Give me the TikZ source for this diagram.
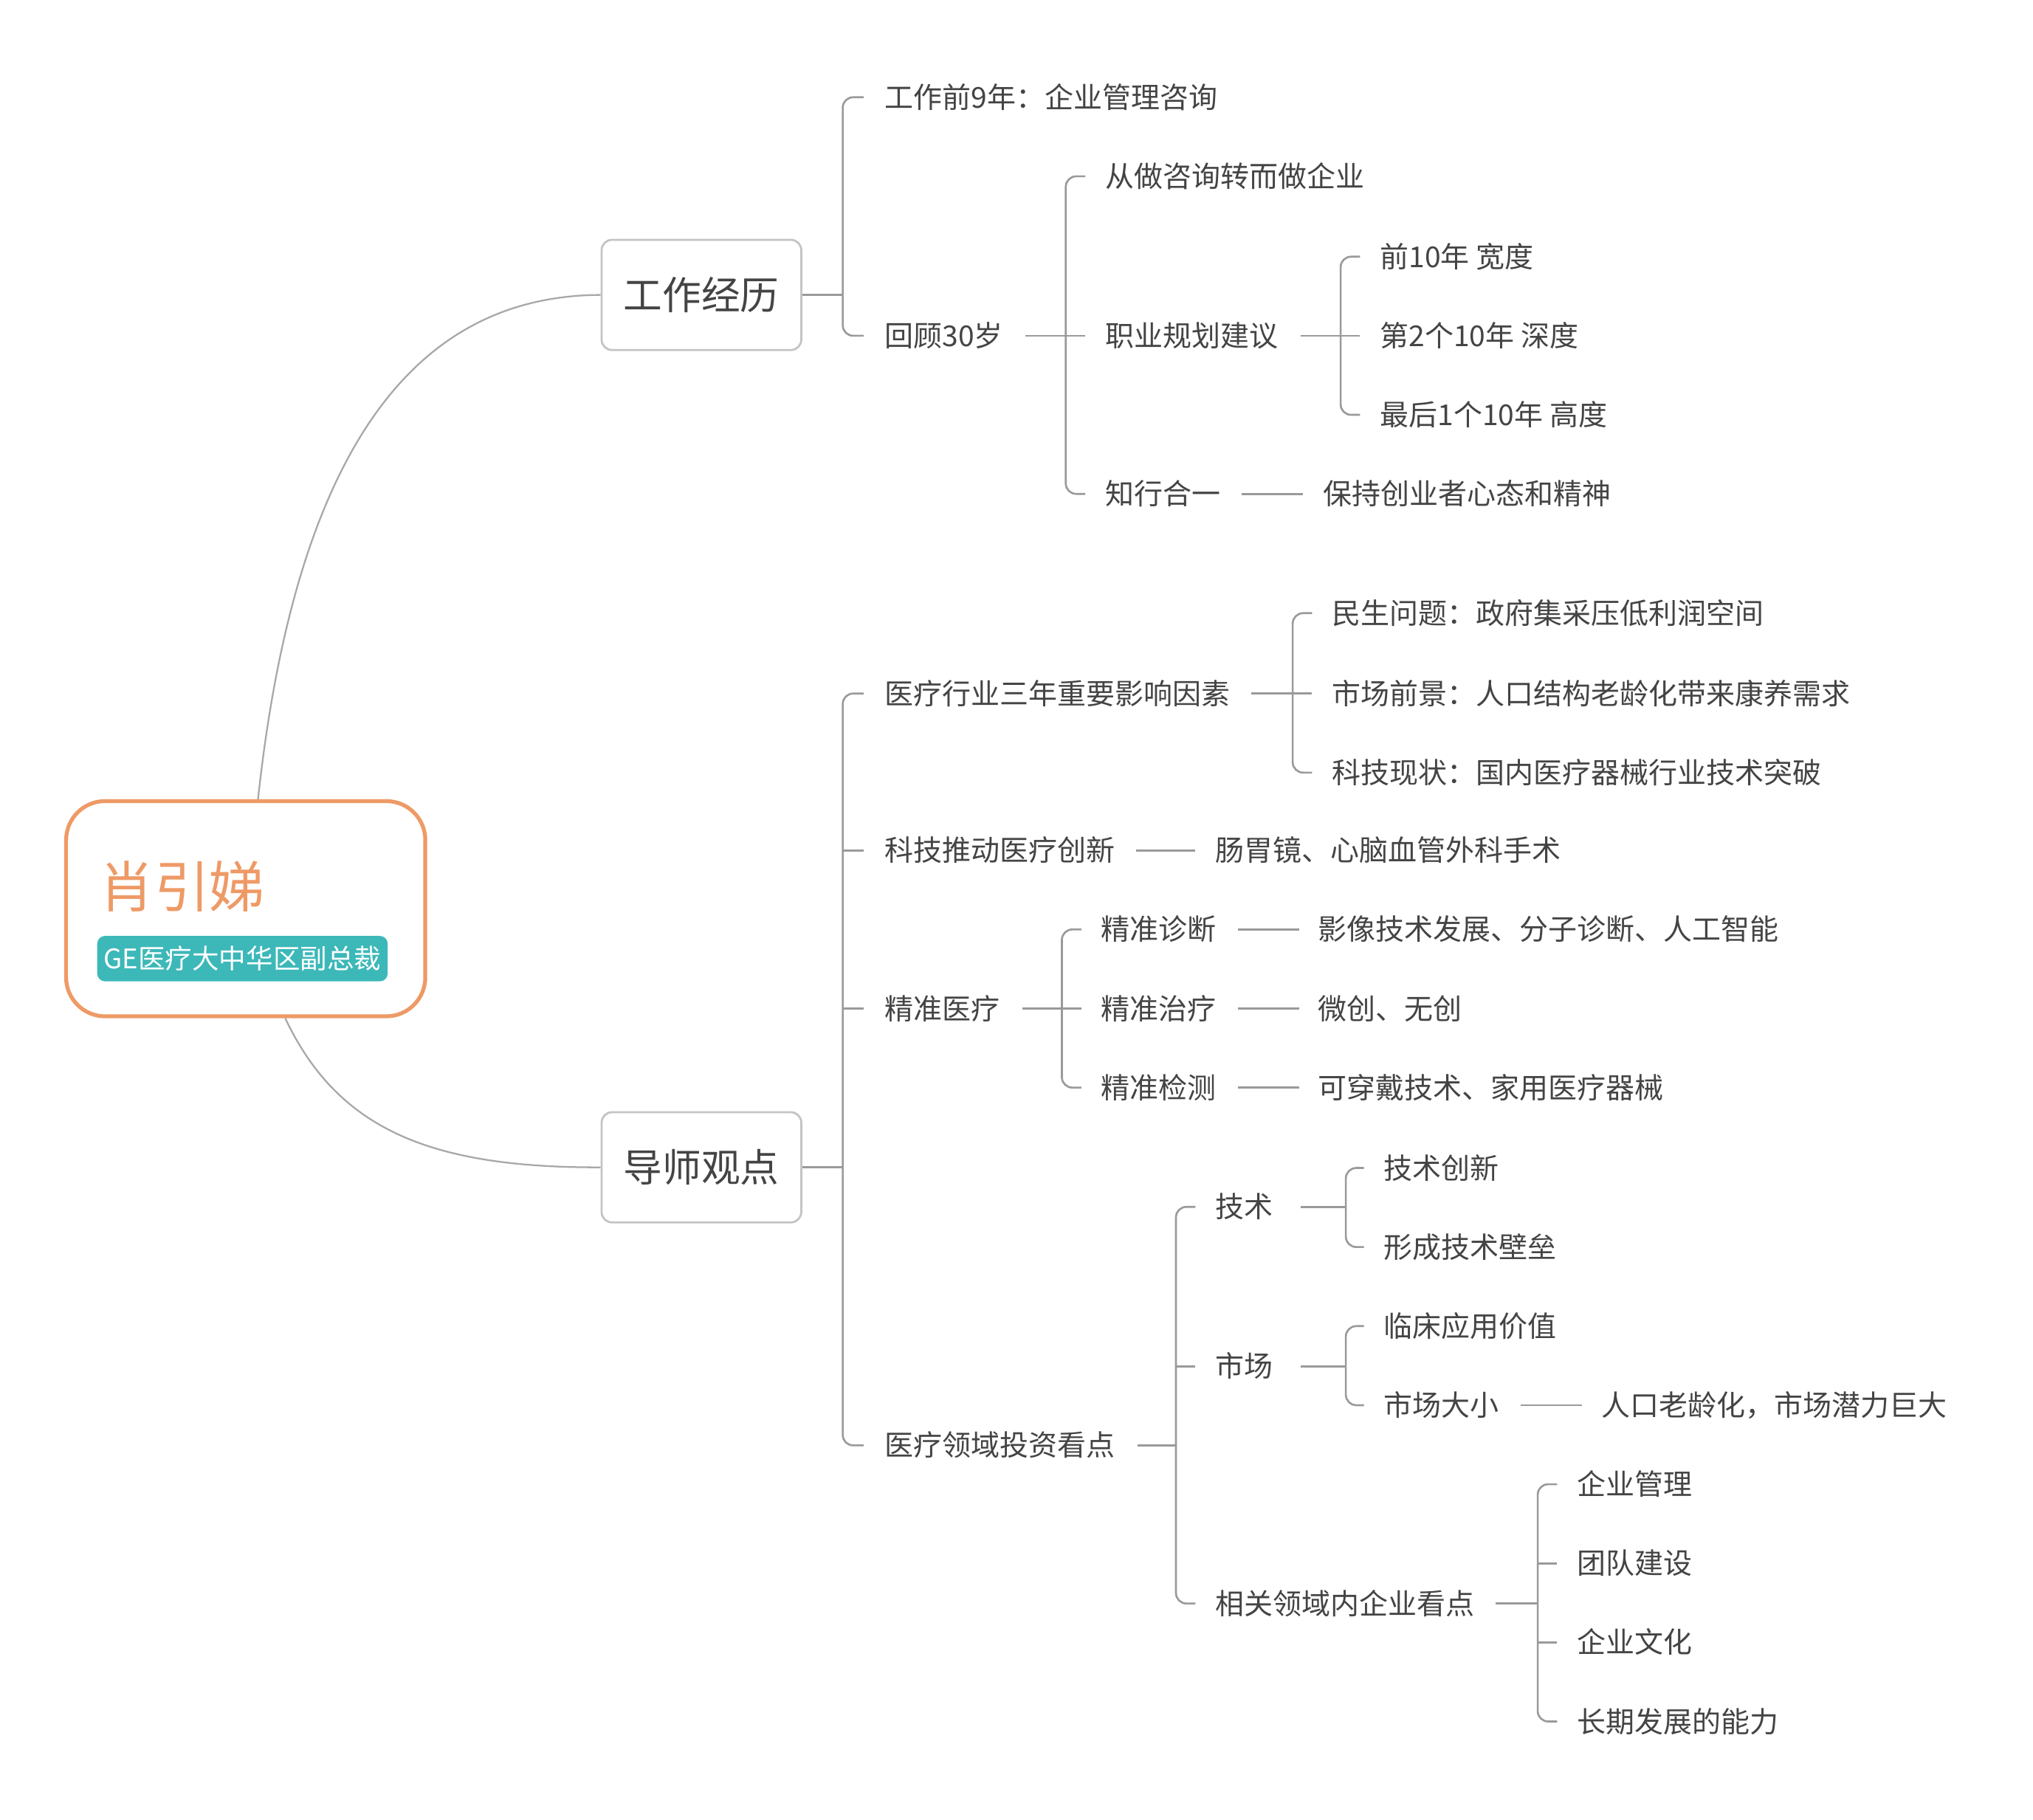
\documentclass[tikz,border=0pt]{standalone}
\usepackage{fontspec}
\setmainfont{Noto Sans CJK SC}
\newfontfamily\cjk{Noto Sans CJK SC}
\definecolor{rootc}{HTML}{EE9A66}
\definecolor{tealc}{HTML}{3DB8B9}
\definecolor{txtc}{HTML}{444444}
\definecolor{linec}{HTML}{9A9A9A}
\definecolor{topicb}{HTML}{C4C4C4}
\definecolor{curvec}{HTML}{A8A8A8}
\tikzset{
  txt/.style={anchor=west, inner sep=0pt, font={\cjk\fontsize{11.1}{13}\selectfont}, text=txtc, text height=9pt, text depth=0.7pt},
  conn/.style={draw=linec, line width=0.75pt, rounded corners=4pt},
  curve/.style={draw=curvec, line width=0.65pt},
  topic/.style={draw=topicb, line width=0.8pt, rounded corners=4pt, fill=white, minimum width=77pt, minimum height=42.5pt, inner sep=0pt, font={\cjk\fontsize{15}{18}\selectfont}, text=txtc, text height=12pt, text depth=0.9pt},
  rootbox/.style={draw=rootc, line width=1.5pt, rounded corners=15pt, fill=white, minimum width=138.5pt, minimum height=83pt, inner sep=0pt},
  roottitle/.style={anchor=west, inner sep=0pt, font={\cjk\fontsize{21.3}{24}\selectfont}, text=rootc, text height=17.1pt, text depth=1.3pt},
  subbox/.style={fill=tealc, rounded corners=3pt, minimum width=112pt, minimum height=17.5pt, inner sep=0pt, font={\cjk\fontsize{10.4}{12}\selectfont}, text=white, text height=8.3pt, text depth=0.62pt}
}
\begin{document}
\begin{tikzpicture}[x=0.5pt,y=-0.5pt]
\fill[white] (0,0) rectangle (1568,1404);
\useasboundingbox (0,0) rectangle (1568,1404);

% root
\node[rootbox] (root) at (189.5,701) {};
\node[roottitle] (rt) at (76,684) {肖引娣};
\node[subbox] (sub) at (187,739.5) {GE医疗大中华区副总裁};

% main topics
\node[topic] (T1) at (541,227.5) {工作经历};
\node[topic] (T2) at (541,900.5) {导师观点};

\draw[curve] ([xshift=4.75pt]root.north) .. controls (230,330) and (330,228) .. (T1.west);
\draw[curve] ([xshift=15.25pt]root.south) .. controls (260,870) and (330,901) .. (T2.west);

% branch 1
\node[txt] (A1) at (682,75) {工作前9年：企业管理咨询};
\node[txt] (A2) at (682,259) {回顾30岁};
\node[txt] (A21) at (852,136) {从做咨询转而做企业};
\node[txt] (A22) at (852,259) {职业规划建议};
\node[txt] (A23) at (852,381) {知行合一};
\node[txt] (A221) at (1064,198) {前10年 宽度};
\node[txt] (A222) at (1064,259) {第2个10年 深度};
\node[txt] (A223) at (1064,320) {最后1个10年 高度};
\node[txt] (A231) at (1020,381) {保持创业者心态和精神};

% branch 2
\node[txt] (B1) at (682,535) {医疗行业三年重要影响因素};
\node[txt] (B11) at (1027,473) {民生问题：政府集采压低利润空间};
\node[txt] (B12) at (1027,535) {市场前景：人口结构老龄化带来康养需求};
\node[txt] (B13) at (1027,596) {科技现状：国内医疗器械行业技术突破};
\node[txt] (B2) at (682,656) {科技推动医疗创新};
\node[txt] (B21) at (937,656) {肠胃镜、心脑血管外科手术};
\node[txt] (B3) at (682,778) {精准医疗};
\node[txt] (B31) at (849,717) {精准诊断};
\node[txt] (B32) at (849,778) {精准治疗};
\node[txt] (B33) at (849,839) {精准检测};
\node[txt] (B311) at (1016,717) {影像技术发展、分子诊断、人工智能};
\node[txt] (B321) at (1016,778) {微创、无创};
\node[txt] (B331) at (1016,839) {可穿戴技术、家用医疗器械};
\node[txt] (B4) at (682,1115) {医疗领域投资看点};
\node[txt] (B41) at (937,931) {技术};
\node[txt] (B42) at (937,1054) {市场};
\node[txt] (B43) at (937,1237) {相关领域内企业看点};
\node[txt] (B411) at (1067,901) {技术创新};
\node[txt] (B412) at (1067,962) {形成技术壁垒};
\node[txt] (B421) at (1067,1023) {临床应用价值};
\node[txt] (B422) at (1067,1084) {市场大小};
\node[txt] (B4221) at (1235,1084) {人口老龄化，市场潜力巨大};
\node[txt] (B431) at (1216,1145) {企业管理};
\node[txt] (B432) at (1216,1206) {团队建设};
\node[txt] (B433) at (1216,1267) {企业文化};
\node[txt] (B434) at (1216,1328) {长期发展的能力};

% spines
\coordinate (sT1) at (650,227.5);
\coordinate (sA2) at (822,259);
\coordinate (sA22) at (1034,259);
\coordinate (sT2) at (650,900.5);
\coordinate (sB1) at (997,535);
\coordinate (sB3) at (819,778);
\coordinate (sB4) at (907,1115);
\coordinate (sB41) at (1038,931);
\coordinate (sB42) at (1038,1054);
\coordinate (sB43) at (1186,1237);

% branch 1 connectors
\draw[conn] (T1.east) -- (sT1);
\draw[conn] (sT1) |- ([xshift=-8pt]A1.west);
\draw[conn] (sT1) |- ([xshift=-8pt]A2.west);

\draw[conn] ([xshift=8.5pt]A2.east) -- (sA2);
\draw[conn] (sA2) |- ([xshift=-7.5pt]A21.west);
\draw[conn] (sA2) -- ([xshift=-7.5pt]A22.west);
\draw[conn] (sA2) |- ([xshift=-7.5pt]A23.west);

\draw[conn] ([xshift=8.5pt]A22.east) -- (sA22);
\draw[conn] (sA22) |- ([xshift=-7.5pt]A221.west);
\draw[conn] (sA22) -- ([xshift=-7.5pt]A222.west);
\draw[conn] (sA22) |- ([xshift=-7.5pt]A223.west);

\draw[conn] ([xshift=8pt]A23.east) -- ([xshift=-7.5pt]A231.west);

% branch 2 connectors
\draw[conn] (T2.east) -- (sT2);
\draw[conn] (sT2) |- ([xshift=-8pt]B1.west);
\draw[conn] (sT2 |- B2.west) -- ([xshift=-8pt]B2.west);
\draw[conn] (sT2 |- B3.west) -- ([xshift=-8pt]B3.west);
\draw[conn] (sT2) |- ([xshift=-8pt]B4.west);

\draw[conn] ([xshift=8pt]B1.east) -- (sB1);
\draw[conn] (sB1) |- ([xshift=-7.5pt]B11.west);
\draw[conn] (sB1) -- ([xshift=-7.5pt]B12.west);
\draw[conn] (sB1) |- ([xshift=-7.5pt]B13.west);

\draw[conn] ([xshift=8pt]B2.east) -- ([xshift=-7.5pt]B21.west);

\draw[conn] ([xshift=8.5pt]B3.east) -- (sB3);
\draw[conn] (sB3) |- ([xshift=-7.5pt]B31.west);
\draw[conn] (sB3) -- ([xshift=-7.5pt]B32.west);
\draw[conn] (sB3) |- ([xshift=-7.5pt]B33.west);

\draw[conn] ([xshift=8pt]B31.east) -- ([xshift=-7pt]B311.west);
\draw[conn] ([xshift=8pt]B32.east) -- ([xshift=-7pt]B321.west);
\draw[conn] ([xshift=8pt]B33.east) -- ([xshift=-7pt]B331.west);

\draw[conn] ([xshift=8.5pt]B4.east) -- (sB4);
\draw[conn] (sB4) |- ([xshift=-7.5pt]B41.west);
\draw[conn] (sB4 |- B42.west) -- ([xshift=-7.5pt]B42.west);
\draw[conn] (sB4) |- ([xshift=-7.5pt]B43.west);

\draw[conn] ([xshift=10.5pt]B41.east) -- (sB41);
\draw[conn] (sB41) |- ([xshift=-7.5pt]B411.west);
\draw[conn] (sB41) |- ([xshift=-7.5pt]B412.west);

\draw[conn] ([xshift=10.5pt]B42.east) -- (sB42);
\draw[conn] (sB42) |- ([xshift=-7.5pt]B421.west);
\draw[conn] (sB42) |- ([xshift=-7.5pt]B422.west);

\draw[conn] ([xshift=8pt]B422.east) -- ([xshift=-7.5pt]B4221.west);

\draw[conn] ([xshift=8pt]B43.east) -- (sB43);
\draw[conn] (sB43) |- ([xshift=-7.5pt]B431.west);
\draw[conn] (sB43 |- B432.west) -- ([xshift=-7.5pt]B432.west);
\draw[conn] (sB43 |- B433.west) -- ([xshift=-7.5pt]B433.west);
\draw[conn] (sB43) |- ([xshift=-7.5pt]B434.west);
\end{tikzpicture}
\end{document}
